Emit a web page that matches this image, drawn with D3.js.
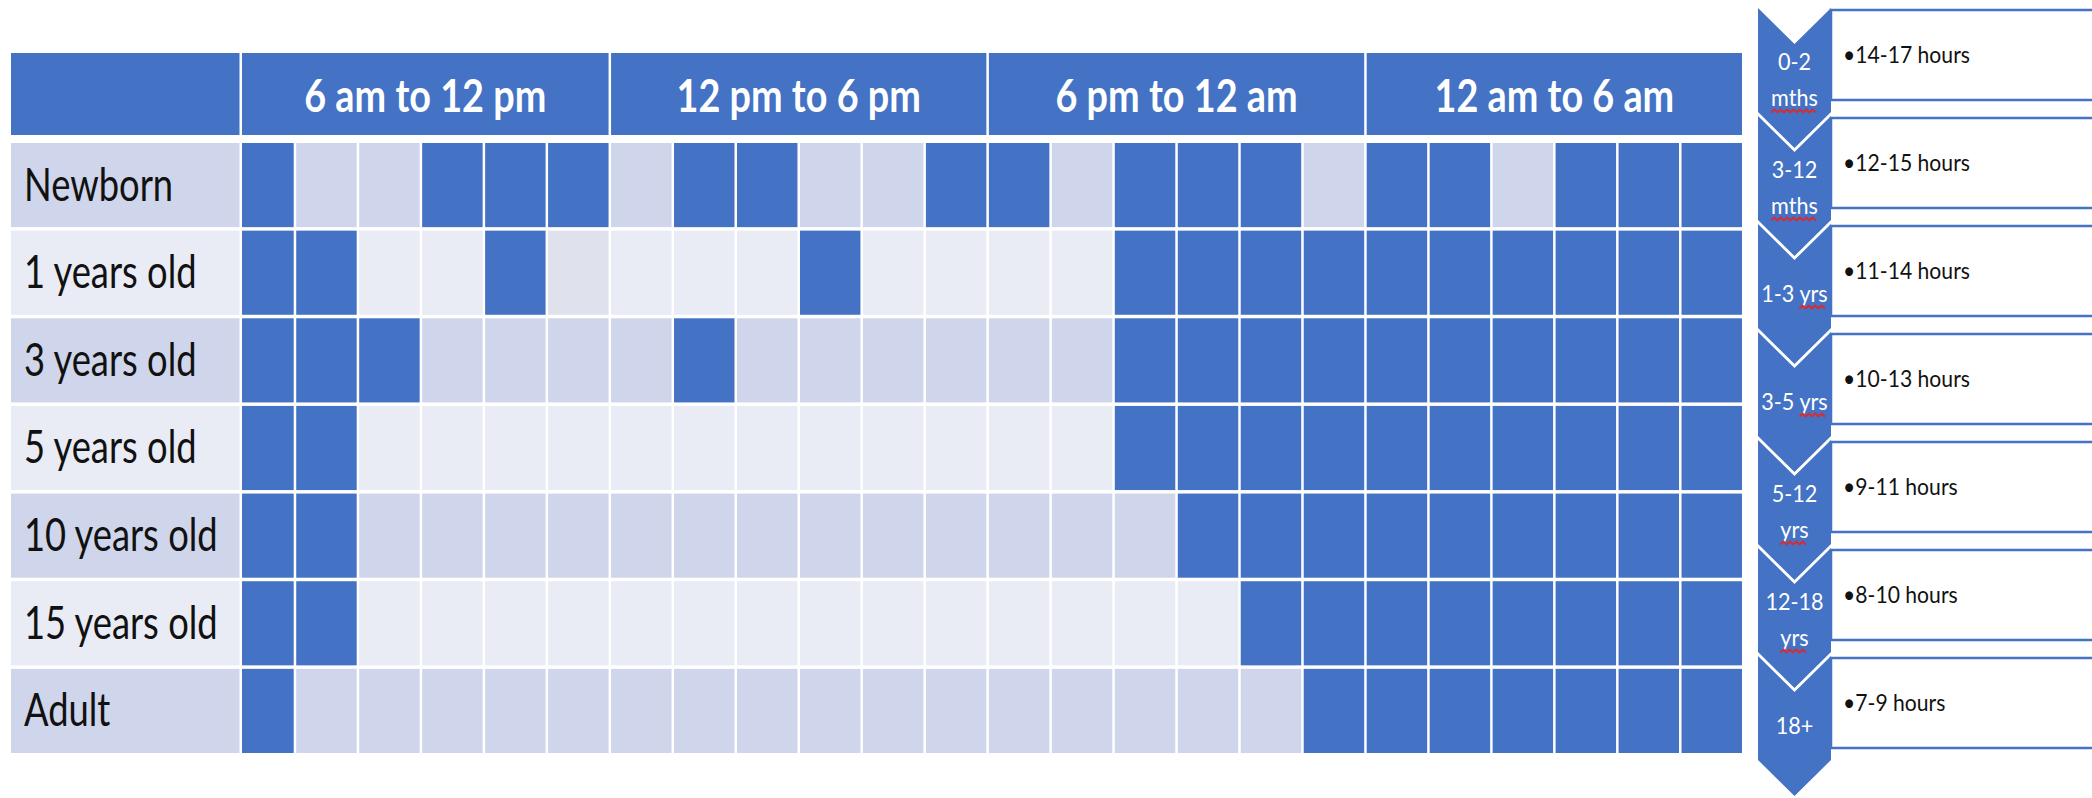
<!DOCTYPE html>
<html>
<head>
<meta charset="utf-8">
<script src="https://cdn.jsdelivr.net/npm/d3@7"></script>
<style>
  html, body { margin: 0; padding: 0; background: #ffffff; }
  svg { display: block; }
</style>
</head>
<body>
<svg id="chart" width="2092" height="798"></svg>
<script>
// ---- data -------------------------------------------------------------
const ageGroups = ["Newborn", "1 years old", "3 years old", "5 years old",
                   "10 years old", "15 years old", "Adult"];
const periods = ["6 am to 12 pm", "12 pm to 6 pm", "6 pm to 12 am", "12 am to 6 am"];

// one value per hour starting at 6 am: 1 = asleep, 0 = awake, 2 = awake (unmarked)
const sleepNewborn = [1,0,0,1,1,1, 0,1,1,0,0,1, 1,0,1,1,1,0, 1,1,0,1,1,1];
const sleep1yr     = [1,1,0,0,1,2, 0,0,0,1,0,0, 0,0,1,1,1,1, 1,1,1,1,1,1];
const sleep3yr     = [1,1,1,0,0,0, 0,1,0,0,0,0, 0,0,1,1,1,1, 1,1,1,1,1,1];
const sleep5yr     = [1,1,0,0,0,0, 0,0,0,0,0,0, 0,0,1,1,1,1, 1,1,1,1,1,1];
const sleep10yr    = [1,1,0,0,0,0, 0,0,0,0,0,0, 0,0,0,1,1,1, 1,1,1,1,1,1];
const sleep15yr    = [1,1,0,0,0,0, 0,0,0,0,0,0, 0,0,0,0,1,1, 1,1,1,1,1,1];
const sleepAdult   = [1,0,0,0,0,0, 0,0,0,0,0,0, 0,0,0,0,0,1, 1,1,1,1,1,1];
const sleepRows = [sleepNewborn, sleep1yr, sleep3yr, sleep5yr, sleep10yr, sleep15yr, sleepAdult];

// recommended sleep by life stage
const stageLabels = [["0-2", "mths"], ["3-12", "mths"], ["1-3 yrs"], ["3-5 yrs"],
                     ["5-12", "yrs"], ["12-18", "yrs"], ["18+"]];
const stageHours = ["14-17 hours", "12-15 hours", "11-14 hours", "10-13 hours",
                    "9-11 hours", "8-10 hours", "7-9 hours"];
const flaggedWords = ["mths", "yrs"];

// ---- style ------------------------------------------------------------
const BLUE = "#4472C4";
const BAND_ODD = "#CFD5EA";
const BAND_EVEN = "#E9EBF5";
const UNMARKED = "#DFE2EC";
const FONT = "Lato, 'Open Sans', sans-serif";

const svg = d3.select("#chart");

// ---- table scales -----------------------------------------------------
const tableLeft = 11, labelRight = 239.5, gap = 2.5;
const hours = d3.range(24);
const x = d3.scaleLinear().domain([0, 24]).range([232, 1743.25]);
const y = d3.scaleBand().domain(ageGroups).range([141.25, 754.75])
  .paddingInner(0.04).paddingOuter(0.02);
const headerTop = 53, headerBottom = 135;

const cellLeft = c => Math.max(x(c) + gap / 2, labelRight + gap);
const cellRight = c => x(c + 1) - gap / 2;
const rowFill = i => (i % 2 === 0 ? BAND_ODD : BAND_EVEN);

// ---- header -----------------------------------------------------------
const header = svg.append("g").attr("class", "header");
header.append("rect")
  .attr("x", tableLeft).attr("y", headerTop)
  .attr("width", labelRight - tableLeft).attr("height", headerBottom - headerTop)
  .attr("fill", BLUE);

const groups = header.selectAll("g.period").data(periods).join("g").attr("class", "period");
groups.append("rect")
  .attr("x", (d, i) => cellLeft(i * 6))
  .attr("y", headerTop)
  .attr("width", (d, i) => cellRight(i * 6 + 5) - cellLeft(i * 6))
  .attr("height", headerBottom - headerTop)
  .attr("fill", BLUE);
groups.append("text")
  .attr("transform", (d, i) =>
    `translate(${(cellLeft(i * 6) + cellRight(i * 6 + 5)) / 2},${headerTop + 58.7}) scale(0.84,1)`)
  .attr("text-anchor", "middle")
  .attr("font-family", FONT).attr("font-weight", 700).attr("font-size", 45)
  .attr("fill", "#ffffff")
  .text(d => d);

// ---- body rows --------------------------------------------------------
const rows = svg.selectAll("g.row").data(ageGroups).join("g").attr("class", "row");

rows.append("rect")
  .attr("x", tableLeft).attr("y", d => y(d))
  .attr("width", labelRight - tableLeft).attr("height", y.bandwidth())
  .attr("fill", (d, i) => rowFill(i));

rows.append("text")
  .attr("transform", d => `translate(24,${y(d) + 57.5}) scale(0.79,1)`)
  .attr("font-family", FONT).attr("font-size", 46)
  .attr("fill", "#111111")
  .text(d => d);

rows.each(function (name, i) {
  d3.select(this).selectAll("rect.cell")
    .data(hours.map(h => ({ h, v: sleepRows[i][h] })))
    .join("rect")
    .attr("class", "cell")
    .attr("x", d => cellLeft(d.h))
    .attr("y", y(name))
    .attr("width", d => cellRight(d.h) - cellLeft(d.h))
    .attr("height", y.bandwidth())
    .attr("fill", d => d.v === 1 ? BLUE : d.v === 2 ? UNMARKED : rowFill(i));
});

// ---- stage list (chevrons + text boxes) -------------------------------
const stageY = d3.scaleLinear().domain([0, stageLabels.length]).range([8, 8 + 108 * stageLabels.length]);
const chevLeft = 1758, chevW = 73, chevBody = 104, chevTip = 36;
const boxLeft = 1831, boxH = 90;

const stages = svg.selectAll("g.stage").data(stageLabels).join("g").attr("class", "stage");

stages.append("rect")
  .attr("x", boxLeft).attr("y", (d, i) => stageY(i) + 2)
  .attr("width", 300).attr("height", boxH)
  .attr("fill", "#ffffff").attr("stroke", BLUE).attr("stroke-width", 2.5);

stages.append("text")
  .attr("transform", (d, i) => `translate(1843,${stageY(i) + 55}) scale(0.92,1)`)
  .attr("font-family", FONT).attr("font-size", 23)
  .attr("fill", "#111111")
  .text((d, i) => "\u2022" + stageHours[i]);

stages.append("path")
  .attr("d", (d, i) => {
    const t = stageY(i), l = chevLeft, r = chevLeft + chevW, m = chevLeft + chevW / 2;
    return `M${l},${t}L${m},${t + chevTip}L${r},${t}L${r},${t + chevBody}` +
           `L${m},${t + chevBody + chevTip}L${l},${t + chevBody}Z`;
  })
  .attr("fill", BLUE);

stages.each(function (lines, i) {
  const g = d3.select(this);
  const t = stageY(i);
  const baselines = lines.length === 2 ? [t + 62, t + 98] : [t + 78];
  lines.forEach((line, k) => {
    const lg = g.append("g")
      .attr("transform", `translate(${chevLeft + chevW / 2},${baselines[k]}) scale(0.94,1)`);
    const txt = lg.append("text")
      .attr("text-anchor", "middle")
      .attr("font-family", FONT).attr("font-size", 23)
      .attr("fill", "#ffffff")
      .text(line);
    // red wavy underline beneath flagged words
    const node = txt.node();
    flaggedWords.forEach(w => {
      const idx = line.indexOf(w);
      if (idx < 0) return;
      const x0 = node.getStartPositionOfChar(idx).x;
      const x1 = node.getEndPositionOfChar(idx + w.length - 1).x;
      const step = 3.4;
      let p = `M${x0},6.5`;
      let up = true;
      for (let xx = x0 + step; xx <= x1 + 0.01; xx += step) {
        p += `L${xx},${up ? 3.5 : 6.5}`;
        up = !up;
      }
      lg.append("path").attr("d", p)
        .attr("fill", "none").attr("stroke", "#E0282A").attr("stroke-width", 1.7);
    });
  });
});
</script>
</body>
</html>
